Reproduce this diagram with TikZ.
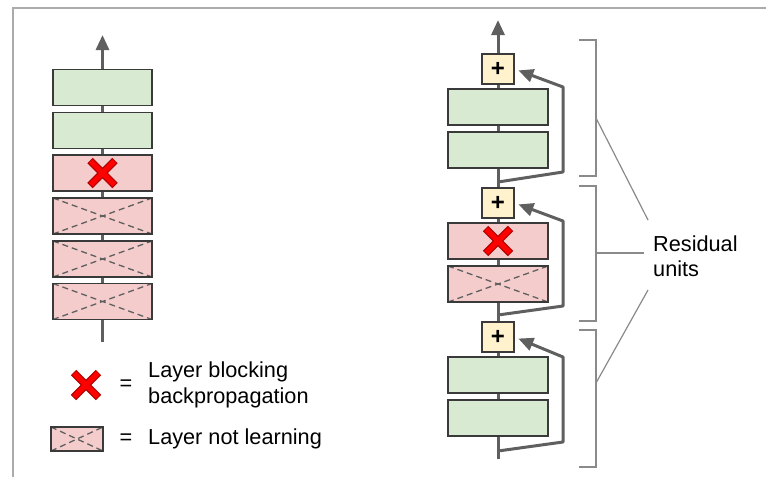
\documentclass[tikz,border=0pt]{standalone}
\usepackage{fontspec}
\setmainfont{Liberation Sans}
\usetikzlibrary{arrows.meta}
\definecolor{layergreen}{HTML}{D9EAD3}
\definecolor{layerred}{HTML}{F4CCCC}
\definecolor{sumyellow}{HTML}{FFF2CC}
\definecolor{edgedark}{HTML}{3A3A3A}
\definecolor{flowgray}{HTML}{5F5F5F}
\definecolor{bracketgray}{HTML}{8A8A8A}
\definecolor{framegray}{HTML}{ABABAB}
\definecolor{crossred}{HTML}{FF0000}
\definecolor{crossdark}{HTML}{B00000}

\begin{document}
\begin{tikzpicture}[x=1pt,y=-1pt,
  layerbox/.style={draw=edgedark, line width=1.8pt, minimum width=99pt,
    minimum height=36pt, inner sep=0pt},
  okbox/.style={layerbox, fill=layergreen},
  badbox/.style={layerbox, fill=layerred},
  frozen/.style={badbox, path picture={
    \draw[flowgray, line width=1.3pt, dash pattern=on 6pt off 4pt]
      (path picture bounding box.north west) -- (path picture bounding box.south east)
      (path picture bounding box.south west) -- (path picture bounding box.north east);}},
  sumbox/.style={draw=edgedark, line width=1.2pt, fill=sumyellow,
    minimum width=32pt, minimum height=30pt, inner sep=0pt,
    font=\fontsize{24}{24}\selectfont\bfseries},
  flow/.style={draw=flowgray, line width=3pt},
  flowarrow/.style={flow, -{Triangle[length=15pt,width=13pt]}},
  ubracket/.style={draw=bracketgray, line width=1.5pt},
  pointer/.style={draw=bracketgray, line width=1.2pt},
  legendtext/.style={font=\fontsize{21.7}{25.5}\selectfont, align=left,
    inner sep=0pt, anchor=west},
  blockmark/.pic={
    \draw[crossdark, line width=7.5pt] (-12.5,-12.5) -- (12.5,12.5)
                                       (-12.5,12.5) -- (12.5,-12.5);
    \draw[crossred, line width=5pt] (-11.8,-11.8) -- (11.8,11.8)
                                    (-11.8,11.8) -- (11.8,-11.8);
  },
]
\useasboundingbox (0,0) rectangle (766,477);

% outer frame (top and left edges)
\draw[framegray, line width=2pt] (766,8) -- (13,8) -- (13,477);

% ---------- plain deep stack ----------
\node[okbox]  (a1) at (102.5,87.5)  {};
\node[okbox]  (a2) at (102.5,130.5) {};
\node[badbox] (a3) at (102.5,173)   {};
\node[frozen] (a4) at (102.5,216)   {};
\node[frozen] (a5) at (102.5,259)   {};
\node[frozen] (a6) at (102.5,301.5) {};
\coordinate (ain)  at (102.5,342);
\coordinate (aout) at (102.5,35);
\pic at (a3) {blockmark};

\draw[flow] (ain) -- (a6);
\draw[flow] (a6) -- (a5);
\draw[flow] (a5) -- (a4);
\draw[flow] (a4) -- (a3);
\draw[flow] (a3) -- (a2);
\draw[flow] (a2) -- (a1);
\draw[flowarrow] (a1) -- (aout);

% ---------- legend ----------
\pic at (86,385) {blockmark};
\node[legendtext, anchor=center] (eq1) at (126,385) {=};
\node[legendtext] (lg1) at (148,385) {Layer blocking\\backpropagation};
\node[frozen, minimum width=52pt, minimum height=24pt] (lgbox) at (77,439) {};
\node[legendtext, anchor=center] (eq2) at (126,439) {=};
\node[legendtext] (lg2) at (148,439) {Layer not learning};

% ---------- residual stack ----------
\node[sumbox] (s1) at (498,69) {+};
\node[okbox, minimum width=100pt]  (b1) at (498,107) {};
\node[okbox, minimum width=100pt]  (b2) at (498,150) {};
\node[sumbox] (s2) at (498,203) {+};
\node[badbox, minimum width=100pt] (b3) at (498,241) {};
\node[frozen, minimum width=100pt] (b4) at (498,284) {};
\node[sumbox] (s3) at (498,337) {+};
\node[okbox, minimum width=100pt]  (b5) at (498,375) {};
\node[okbox, minimum width=100pt]  (b6) at (498,418) {};
\pic at (b3) {blockmark};

\coordinate (bin)  at (498,459);
\coordinate (bout) at (498,20);
\coordinate (j1) at (498,182);
\coordinate (j2) at (498,315);
\coordinate (j3) at (498,451);

\draw[flow] (bin) -- (b6);
\draw[flow] (b6) -- (b5);
\draw[flow] (b5) -- (s3);
\draw[flow] (s3) -- (b4);
\draw[flow] (b4) -- (b3);
\draw[flow] (b3) -- (s2);
\draw[flow] (s2) -- (b2);
\draw[flow] (b2) -- (b1);
\draw[flow] (b1) -- (s1);
\draw[flowarrow] (s1) -- (bout);

% skip connections
\draw[flowarrow, shorten >=4pt, line join=round]
  (j1) -- ++(65,-10) -- ++(0,-85) -- (s1.east);
\draw[flowarrow, shorten >=4pt, line join=round]
  (j2) -- ++(65,-9) -- ++(0,-85) -- (s2.east);
\draw[flowarrow, shorten >=4pt, line join=round]
  (j3) -- ++(65,-9) -- ++(0,-85) -- (s3.east);

% unit brackets
\draw[ubracket] (579,40)  -- (596,40)  -- (596,176) -- (579,176);
\draw[ubracket] (579,186) -- (596,186) -- (596,321) -- (579,321);
\draw[ubracket] (579,330) -- (596,330) -- (596,467) -- (579,467);

\node[legendtext] (ru) at (653,256) {Residual\\units};
\coordinate (p1) at (596,118);
\coordinate (p2) at (596,253);
\coordinate (p3) at (596,383);
\draw[pointer] (p1) -- (648,220);
\draw[pointer] (p2) -- (644,253);
\draw[pointer] (p3) -- (648,290);
\end{tikzpicture}
\end{document}
